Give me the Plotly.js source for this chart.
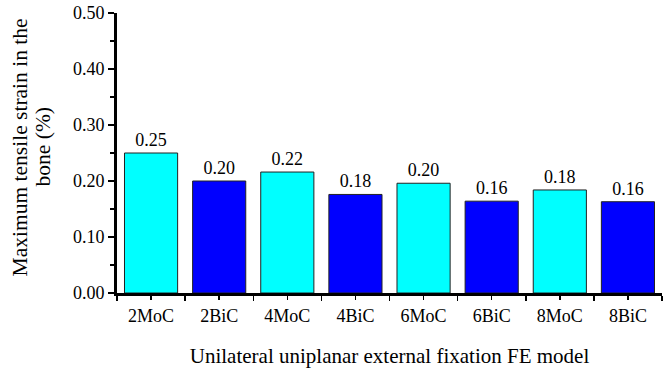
<!DOCTYPE html>
<html>
<head>
<meta charset="utf-8">
<script src="https://cdn.plot.ly/plotly-3.0.1.min.js"></script>
<style>html,body{margin:0;padding:0;background:#fff;}#chart{width:664px;height:374px;}</style>
</head>
<body>
<div id="chart"></div>
<script>
const categories = ["2MoC", "2BiC", "4MoC", "4BiC", "6MoC", "6BiC", "8MoC", "8BiC"];
const strainValues = [0.250, 0.200, 0.216, 0.176, 0.196, 0.164, 0.184, 0.163];
const barColors = ["#00FFFF", "#0000FF", "#00FFFF", "#0000FF", "#00FFFF", "#0000FF", "#00FFFF", "#0000FF"];
const yTickVals = [0, 0.1, 0.2, 0.3, 0.4, 0.5];
const yTickText = ["0.00", "0.10", "0.20", "0.30", "0.40", "0.50"];
const yTitleLines = ["Maximum tensile strain in the", "bone (%)"];
const xTitle = "Unilateral uniplanar external fixation FE model";

const positions = categories.map((c, i) => i);
const serif = "'Liberation Serif', 'Times New Roman', serif";

const trace = {
  type: "bar",
  x: positions,
  y: strainValues,
  marker: {color: barColors, line: {color: "#222", width: 1}},
  texttemplate: "%{y:.2f}",
  textposition: "outside",
  cliponaxis: false,
  textfont: {family: serif, size: 18, color: "#000"},
  hoverinfo: "none"
};

const layout = {
  width: 664, height: 374,
  margin: {l: 117, r: 2, t: 13, b: 81},
  paper_bgcolor: "#fff", plot_bgcolor: "#fff",
  showlegend: false,
  bargap: 0.22,
  font: {family: serif, color: "#000"},
  xaxis: {
    range: [-0.5, 7.5],
    tickmode: "array", tickvals: positions, ticktext: categories,
    ticks: "outside", ticklen: 4, tickwidth: 1.5, tickcolor: "#000",
    minor: {tickmode: "linear", tick0: -0.5, dtick: 1, ticks: "outside", ticklen: 5, tickwidth: 1.5, tickcolor: "#000"},
    showline: true, linecolor: "#000", linewidth: 3,
    showgrid: false, zeroline: false,
    tickfont: {family: serif, size: 18, color: "#000"},
    title: {text: xTitle, font: {family: serif, size: 21, color: "#000"}, standoff: 24},
    fixedrange: true
  },
  yaxis: {
    range: [0, 0.5],
    tickmode: "array", tickvals: yTickVals, ticktext: yTickText,
    ticks: "outside", ticklen: 6, tickwidth: 1.5, tickcolor: "#000",
    minor: {tickmode: "linear", tick0: 0.05, dtick: 0.1, ticks: "outside", ticklen: 4, tickwidth: 1.5, tickcolor: "#000"},
    showline: true, linecolor: "#000", linewidth: 3,
    showgrid: false, zeroline: false,
    tickfont: {family: serif, size: 18, color: "#000"},
    fixedrange: true
  },
  annotations: [
    {text: yTitleLines[0], xref: "paper", yref: "paper", x: (20 - 117) / 545, y: 0.52,
     xanchor: "center", yanchor: "middle", textangle: -90, showarrow: false,
     font: {family: serif, size: 21.5, color: "#000"}},
    {text: yTitleLines[1], xref: "paper", yref: "paper", x: (43 - 117) / 545, y: 0.52,
     xanchor: "center", yanchor: "middle", textangle: -90, showarrow: false,
     font: {family: serif, size: 21.5, color: "#000"}}
  ]
};

Plotly.newPlot("chart", [trace], layout, {displayModeBar: false, staticPlot: true});
</script>
</body>
</html>
